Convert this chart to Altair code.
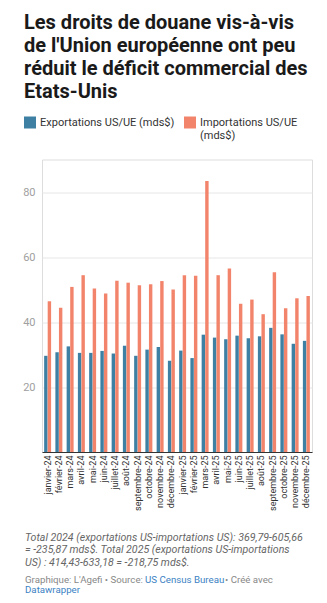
import altair as alt
import pandas as pd

mois = ["janvier-24", "février-24", "mars-24", "avril-24", "mai-24", "juin-24",
        "juillet-24", "août-24", "septembre-24", "octobre-24", "novembre-24", "décembre-24",
        "janvier-25", "février-25", "mars-25", "avril-25", "mai-25", "juin-25",
        "juillet-25", "août-25", "septembre-25", "octobre-25", "novembre-25", "décembre-25"]
exportations = [29.6, 30.7, 32.5, 30.5, 30.5, 31.1, 30.3, 32.7, 29.6, 31.5, 32.3, 28.1,
                31.2, 28.9, 36.1, 35.2, 34.7, 35.8, 35.0, 35.6, 38.2, 36.2, 33.3, 34.2]
importations = [46.4, 44.4, 50.8, 54.4, 50.3, 48.8, 52.7, 52.1, 51.3, 51.6, 52.6, 50.0,
                54.4, 54.2, 83.4, 54.4, 56.5, 45.6, 46.9, 42.4, 55.3, 44.2, 47.3, 48.0]
series = ["Exportations US/UE (mds$)", "Importations US/UE (mds$)"]
couleurs = ["#3e80a3", "#f3846c"]
y_ticks = [20, 40, 60, 80]

titre = ["Les droits de douane vis-à-vis", "de l'Union européenne ont peu",
         "réduit le déficit commercial des", "Etats-Unis"]
note = ["Total 2024 (exportations US-importations US): 369,79-605,66",
        "= -235,87 mds$. Total 2025 (exportations US-importations",
        "US) : 414,43-633,18 = -218,75 mds$."]
source_a = "Graphique: L'Agefi • Source:"
source_b = "US Census Bureau"
source_c = "• Créé avec"
source_d = "Datawrapper"

df = pd.DataFrame({
    "mois": mois * 2,
    "serie": [series[0]] * len(mois) + [series[1]] * len(mois),
    "valeur": exportations + importations,
})

FONT = "Roboto"

label_expr = ("datum.label == 'Importations US/UE (mds$)' "
              "? ['Importations US/UE', '(mds$)'] : [datum.label, ' ']")

bars = alt.Chart(df).mark_bar().encode(
    x=alt.X("mois:N", sort=mois,
            scale=alt.Scale(paddingInner=0.38, paddingOuter=0.19),
            axis=alt.Axis(title=None, labelAngle=-90, labelAlign="right",
                          labelBaseline="middle", labelFontSize=9, labelColor="#333333",
                          labelPadding=3, ticks=False, domainColor="#333333",
                          labelFont=FONT, grid=False)),
    xOffset=alt.XOffset("serie:N", sort=series, scale=alt.Scale(paddingInner=0.04)),
    y=alt.Y("valeur:Q", scale=alt.Scale(domain=[0, 90], nice=False),
            axis=alt.Axis(values=y_ticks, title=None, domain=False, ticks=False,
                          labelColor="#a0a0a0", labelFontSize=11, labelPadding=7,
                          labelFont=FONT, gridColor="#e6e6e6")),
    color=alt.Color("serie:N", scale=alt.Scale(domain=series, range=couleurs),
                    legend=alt.Legend(
                        title=None, orient="none", legendX=-18, legendY=-43,
                        direction="horizontal", symbolType="square", symbolSize=144,
                        symbolStrokeWidth=0, labelFontSize=11, labelColor="#333333",
                        labelFont=FONT, labelOffset=4, columnPadding=9, padding=0,
                        labelLimit=300, labelExpr=label_expr)),
)

def txt(t, x, y, size, color, style="normal"):
    return alt.Chart(pd.DataFrame({"t": [t]})).mark_text(
        align="left", baseline="alphabetic", font=FONT, fontSize=size,
        color=color, fontStyle=style, lineBreak="\n", lineHeight=12.8,
    ).encode(text="t:N", x=alt.value(x), y=alt.value(y))

footer = [
    txt("\n".join(note), -17, 381.2, 10.6, "#666666", "italic"),
    txt(source_a, -17, 423.2, 9.7, "#888888"),
    txt(source_b, 103, 423.2, 9.7, "#3b82c4"),
    txt(source_c, 183, 423.2, 9.7, "#888888"),
    txt(source_d, -17, 433.5, 9.7, "#3b82c4"),
]

chart = alt.layer(bars, *footer).properties(
    width=270, height=292.5,
    autosize=alt.AutoSizeParams(type="none"),
    padding={"left": 42, "top": 159.5, "right": 15, "bottom": 151},
    title=alt.TitleParams(text=titre, anchor="start", frame="group", dx=-18, dy=61,
                          fontSize=20, font=FONT, fontWeight="bold", color="#1a1a1a",
                          lineHeight=23, baseline="bottom", offset=56),
).configure_view(stroke=None).configure(background="white")

chart.save("out.html", embed_options={"renderer": "svg", "actions": False})
